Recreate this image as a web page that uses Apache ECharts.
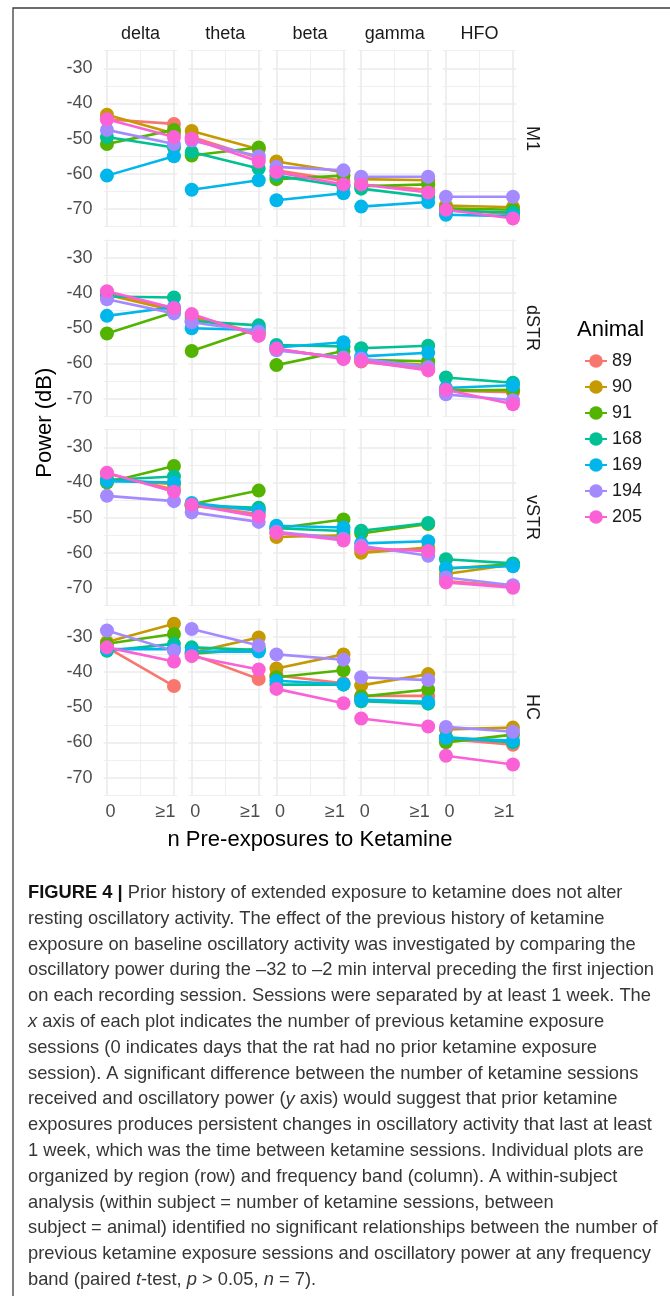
<!DOCTYPE html>
<html>
<head>
<meta charset="utf-8">
<script src="https://cdn.jsdelivr.net/npm/echarts@6/dist/echarts.min.js"></script>
<style>
  html, body { margin: 0; padding: 0; background: #ffffff; }
  #chart { width: 670px; height: 1296px; }
</style>
</head>
<body>
<div id="chart"></div>
<script>
// ---- data ----------------------------------------------------------------
const regions = ['M1', 'dSTR', 'vSTR', 'HC'];
const bands = ['delta', 'theta', 'beta', 'gamma', 'HFO'];
const animals = ['89', '90', '91', '168', '169', '194', '205'];
const exposureLabels = ['0', '≥1'];
const yTicks = [-70, -60, -50, -40, -30];
const yMinorTicks = [-75, -65, -55, -45, -35, -25];

// Power (dB) per animal (rows, same order as `animals`), per band:
// [0 pre-exposures, ≥1 pre-exposures]
const powerM1 = [
  [[-44.5, -45.8], [-49.5, -55.5], [-59.0, -62.0], [-63.0, -64.5], [-70.0, -71.5]],
  [[-43.2, -48.5], [-47.8, -53.0], [-56.5, -59.5], [-61.5, -61.8], [-69.0, -69.5]],
  [[-51.5, -47.5], [-54.8, -52.5], [-61.5, -60.5], [-63.5, -63.0], [-69.8, -70.2]],
  [[-49.5, -52.5], [-53.8, -58.5], [-60.5, -63.5], [-64.2, -66.5], [-70.5, -71.0]],
  [[-60.5, -55.0], [-64.5, -61.8], [-67.5, -65.5], [-69.3, -68.0], [-71.6, -72.0]],
  [[-47.5, -51.5], [-50.5, -55.0], [-58.0, -59.0], [-60.8, -60.8], [-66.5, -66.5]],
  [[-44.5, -49.5], [-50.0, -56.5], [-59.5, -63.0], [-63.0, -65.3], [-70.2, -72.7]]
];
const powerDSTR = [
  [[-40.0, -44.5], [-46.5, -51.5], [-56.0, -58.5], [-59.5, -61.5], [-67.8, -68.2]],
  [[-40.5, -45.0], [-47.0, -51.5], [-56.0, -58.5], [-59.3, -60.5], [-67.5, -67.8]],
  [[-51.5, -45.5], [-56.5, -50.0], [-60.5, -56.5], [-59.0, -59.4], [-67.8, -67.5]],
  [[-41.0, -41.3], [-48.0, -49.2], [-54.8, -55.2], [-55.7, -55.0], [-64.0, -65.5]],
  [[-46.5, -44.0], [-50.0, -50.5], [-55.5, -54.0], [-58.0, -57.0], [-67.0, -66.2]],
  [[-41.8, -45.8], [-48.3, -51.0], [-56.3, -58.3], [-58.7, -61.0], [-68.8, -70.5]],
  [[-39.5, -44.3], [-46.0, -52.2], [-55.8, -58.8], [-59.3, -62.0], [-67.5, -71.6]]
];
const powerVSTR = [
  [[-37.5, -42.0], [-46.5, -49.0], [-54.5, -55.5], [-59.0, -59.2], [-68.0, -69.5]],
  [[-39.0, -40.5], [-46.8, -47.5], [-55.5, -55.0], [-60.0, -58.5], [-66.0, -63.3]],
  [[-40.0, -35.3], [-46.2, -42.3], [-53.0, -50.5], [-54.5, -51.8], [-64.5, -63.2]],
  [[-39.3, -38.3], [-46.5, -47.2], [-53.0, -53.8], [-53.7, -51.5], [-61.8, -63.0]],
  [[-39.6, -40.0], [-45.8, -48.0], [-52.3, -52.8], [-57.3, -56.7], [-64.3, -63.8]],
  [[-43.8, -45.3], [-48.5, -51.2], [-54.0, -56.0], [-58.0, -60.8], [-67.0, -69.2]],
  [[-37.2, -42.6], [-46.3, -49.7], [-54.3, -56.5], [-58.6, -59.5], [-68.4, -69.9]]
];
const powerHC = [
  [[-33.0, -44.0], [-35.0, -42.0], [-41.0, -43.2], [-46.8, -46.8], [-59.0, -60.7]],
  [[-31.5, -26.3], [-34.5, -30.2], [-39.0, -35.0], [-43.8, -40.6], [-56.3, -55.8]],
  [[-32.0, -29.2], [-34.8, -33.5], [-41.5, -39.5], [-47.0, -45.0], [-60.0, -57.8]],
  [[-34.0, -32.0], [-33.0, -33.8], [-43.6, -43.6], [-48.3, -49.0], [-58.5, -60.0]],
  [[-33.5, -33.5], [-34.2, -34.2], [-42.5, -43.5], [-47.8, -48.5], [-58.8, -59.5]],
  [[-28.2, -34.0], [-27.8, -32.5], [-35.0, -36.5], [-41.5, -42.3], [-55.6, -57.0]],
  [[-33.0, -37.0], [-35.5, -39.3], [-44.8, -48.9], [-53.2, -55.5], [-63.8, -66.3]]
];
const powerByRegion = [powerM1, powerDSTR, powerVSTR, powerHC];

const captionLines = [
  '{b|FIGURE 4 |} Prior history of extended exposure to ketamine does not alter',
  'resting oscillatory activity. The effect of the previous history of ketamine',
  'exposure on baseline oscillatory activity was investigated by comparing the',
  'oscillatory power during the \u201332 to \u20132 min interval preceding the first injection',
  'on each recording session. Sessions were separated by at least 1 week. The',
  '{i|x} axis of each plot indicates the number of previous ketamine exposure',
  'sessions (0 indicates days that the rat had no prior ketamine exposure',
  'session). A significant difference between the number of ketamine sessions',
  'received and oscillatory power ({i|y} axis) would suggest that prior ketamine',
  'exposures produces persistent changes in oscillatory activity that last at least',
  '1 week, which was the time between ketamine sessions. Individual plots are',
  'organized by region (row) and frequency band (column). A within-subject',
  'analysis (within subject = number of ketamine sessions, between',
  'subject = animal) identified no significant relationships between the number of',
  'previous ketamine exposure sessions and oscillatory power at any frequency',
  'band (paired {i|t}-test, {i|p} > 0.05, {i|n} = 7).'
];

// ---- styling / layout ------------------------------------------------------
const FONT = "'Liberation Sans', Arial, Helvetica, sans-serif";
const animalColors = ['#F8766D', '#C49A00', '#53B400', '#00C094', '#00B6EB', '#A58AFF', '#FB61D7'];
const GRID_COLOR = '#EBEBEB';
const panelLeft0 = 103.6, colPitch = 84.75, panelW = 73.7;
const panelTop0 = 50, rowPitch = 189.5, panelH = 177;
const yMin = -75.1, yMax = -24.8;

const grids = [], xMajor = [], xMinor = [], yMajor = [], yMinor = [], series = [];

regions.forEach((region, r) => {
  bands.forEach((band, c) => {
    const i = r * bands.length + c;
    grids.push({
      left: panelLeft0 + c * colPitch,
      top: panelTop0 + r * rowPitch,
      width: panelW,
      height: panelH,
      containLabel: false
    });
    xMajor.push({
      gridIndex: i, type: 'value', min: -0.05, max: 1.05,
      axisLine: { show: false },
      axisTick: { show: false, customValues: [0, 1] },
      axisLabel: {
        show: r === regions.length - 1,
        customValues: [0, 1],
        margin: 8,
        fontSize: 18, fontFamily: FONT, color: '#4D4D4D',
        formatter: v => (v < 0.5 ? '{a|' + exposureLabels[0] + '}' : '{b|' + exposureLabels[1] + '}'),
        rich: {
          a: { fontSize: 18, fontFamily: FONT, color: '#4D4D4D', padding: [0, 0, 0, 7] },
          b: { fontSize: 18, fontFamily: FONT, color: '#4D4D4D', padding: [0, 17, 0, 0] }
        }
      },
      splitLine: { show: true, lineStyle: { color: GRID_COLOR, width: 1.6 } }
    });
    xMinor.push({
      gridIndex: i, type: 'value', min: -0.05, max: 1.05,
      axisLine: { show: false },
      axisTick: { show: false, customValues: [0.5] },
      axisLabel: { show: false },
      splitLine: { show: true, lineStyle: { color: GRID_COLOR, width: 0.8 } }
    });
    yMajor.push({
      gridIndex: i, type: 'value', min: yMin, max: yMax,
      axisLine: { show: false },
      axisTick: { show: false, customValues: yTicks },
      axisLabel: {
        show: c === 0, customValues: yTicks, margin: 11,
        fontSize: 18, fontFamily: FONT, color: '#4D4D4D'
      },
      splitLine: { show: true, lineStyle: { color: GRID_COLOR, width: 1.6 } }
    });
    yMinor.push({
      gridIndex: i, type: 'value', min: yMin, max: yMax,
      axisLine: { show: false },
      axisTick: { show: false, customValues: yMinorTicks },
      axisLabel: { show: false },
      splitLine: { show: true, lineStyle: { color: GRID_COLOR, width: 0.8 } }
    });
    animals.forEach((animal, a) => {
      const pair = powerByRegion[r][a][c];
      series.push({
        type: 'line',
        name: animal,
        xAxisIndex: i,
        yAxisIndex: i,
        data: [[0, pair[0]], [1, pair[1]]],
        symbol: 'circle',
        symbolSize: 14,
        color: animalColors[a],
        itemStyle: { color: animalColors[a] },
        lineStyle: { color: animalColors[a], width: 2.6 },
        emphasis: { disabled: true },
        silent: true,
        animation: false,
        z: 3
      });
    });
  });
});

// caption text width adjustment (condensed body face)
const CAPTION_SIZE = 18.5;
const measureCtx = document.createElement('canvas').getContext('2d');
measureCtx.font = CAPTION_SIZE + 'px ' + FONT;
const refWidth = measureCtx.measureText(captionLines[3]).width;
const captionScale = 626 / refWidth;

const graphics = [];
// figure frame
graphics.push({
  type: 'polyline', silent: true,
  shape: { points: [[13, 1296], [13, 8], [670, 8]] },
  style: { stroke: '#3C3C3C', lineWidth: 1.3, fill: null }
});
// column strips
bands.forEach((band, c) => {
  graphics.push({
    type: 'text', silent: true,
    x: panelLeft0 + c * colPitch + panelW / 2, y: 34,
    style: { text: band, fontSize: 18, fontFamily: FONT, fill: '#1A1A1A', textAlign: 'center', textVerticalAlign: 'middle' }
  });
});
// row strips
regions.forEach((region, r) => {
  graphics.push({
    type: 'text', silent: true,
    x: 532, y: panelTop0 + r * rowPitch + panelH / 2,
    rotation: -Math.PI / 2,
    style: { text: region, fontSize: 18, fontFamily: FONT, fill: '#1A1A1A', textAlign: 'center', textVerticalAlign: 'middle' }
  });
});
// axis titles
graphics.push({
  type: 'text', silent: true,
  x: 45, y: panelTop0 + (rowPitch * 3 + panelH) / 2,
  rotation: Math.PI / 2,
  style: { text: 'Power (dB)', fontSize: 22, fontFamily: FONT, fill: '#000', textAlign: 'center', textVerticalAlign: 'middle' }
});
graphics.push({
  type: 'text', silent: true,
  x: panelLeft0 + (colPitch * 4 + panelW) / 2, y: 840,
  style: { text: 'n Pre-exposures to Ketamine', fontSize: 22, fontFamily: FONT, fill: '#000', textAlign: 'center', textVerticalAlign: 'middle' }
});
// legend title
graphics.push({
  type: 'text', silent: true,
  x: 577, y: 330,
  style: { text: 'Animal', fontSize: 22, fontFamily: FONT, fill: '#000', textAlign: 'left', textVerticalAlign: 'middle' }
});
// caption
captionLines.forEach((line, k) => {
  graphics.push({
    type: 'text', silent: true,
    x: 28, y: 893 + k * 25.8,
    scaleX: captionScale,
    style: {
      text: line,
      fontSize: CAPTION_SIZE, fontFamily: FONT, fill: '#363636',
      textAlign: 'left', textVerticalAlign: 'middle',
      rich: {
        b: { fontSize: CAPTION_SIZE, fontFamily: FONT, fontWeight: 'bold', fill: '#111111' },
        i: { fontSize: CAPTION_SIZE, fontFamily: FONT, fontStyle: 'italic', fill: '#363636' }
      }
    }
  });
});

const chart = echarts.init(document.getElementById('chart'), null, { renderer: 'canvas' });
chart.setOption({
  backgroundColor: '#ffffff',
  animation: false,
  grid: grids,
  xAxis: xMajor.concat(xMinor),
  yAxis: yMajor.concat(yMinor),
  legend: {
    orient: 'vertical',
    left: 579, top: 347,
    itemWidth: 22, itemHeight: 17, itemGap: 8,
    selectedMode: false,
    data: animals,
    textStyle: { fontSize: 18, fontFamily: FONT, color: '#1A1A1A', lineHeight: 18 }
  },
  series: series,
  graphic: { elements: graphics }
});
</script>
</body>
</html>
